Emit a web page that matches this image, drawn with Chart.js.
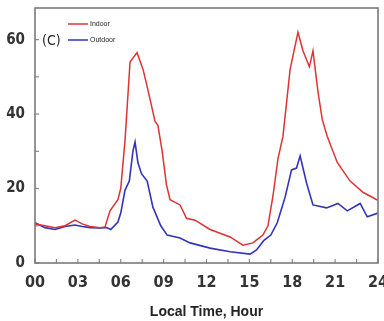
<!DOCTYPE html>
<html lang="en">
<head>
    <meta charset="UTF-8">
    <title>Indoor vs Outdoor</title>
    <script src="https://cdn.jsdelivr.net/npm/chart.js"></script>
    <style>
        body { margin: 0; background: #fff; }
        #wrap { width: 384px; height: 321px; }
    </style>
</head>
<body>
<div id="wrap"><canvas id="chart"></canvas></div>
<script>
    // values (hour of day -> concentration)
    const indoorHours = [0, 0.7, 1.4, 2.1, 2.8, 3.3, 3.85, 4.55, 4.9, 5.25, 5.8, 6.0, 6.3, 6.65, 7.14, 7.56, 7.9, 8.4, 8.6, 8.9, 9.2, 9.45, 10.15, 10.6, 11.2, 12.25, 13.65, 14.55, 15.25, 15.6, 15.95, 16.3, 16.65, 17.0, 17.35, 17.85, 18.4, 18.75, 19.2, 19.45, 19.8, 20.1, 20.45, 21.15, 22.05, 22.95, 23.9, 24];
    const indoorValues = [10.5, 10, 9.5, 10, 11.5, 10.5, 9.8, 9.5, 9.7, 14, 17, 20, 33, 54, 56.5, 52, 46.5, 38, 37, 30, 21, 17, 15.6, 12, 11.5, 9, 7, 4.8, 5.4, 6.5, 7.5, 10, 18, 28, 34, 52, 62, 57, 52.7, 57, 46, 38.5, 34, 27, 22, 19, 17, 17];
    const outdoorHours = [0, 0.7, 1.4, 2.1, 2.8, 3.3, 3.85, 4.55, 5.0, 5.3, 5.8, 6.0, 6.3, 6.6, 6.85, 7.0, 7.2, 7.45, 7.85, 8.25, 8.8, 9.25, 10.15, 10.85, 12.25, 13.65, 15.05, 15.5, 16.0, 16.5, 16.95, 17.5, 17.95, 18.3, 18.55, 19.0, 19.45, 20.4, 21.2, 21.85, 22.75, 23.25, 24];
    const outdoorValues = [10.8, 9.5, 9, 9.8, 10.2, 9.8, 9.5, 9.4, 9.5, 9, 11, 13.4, 19.6, 22, 30, 32.5, 27, 24, 22, 15, 10, 7.5, 6.7, 5.4, 4, 3, 2.4, 3.5, 6, 7.5, 10.8, 17.7, 25, 25.5, 28.8, 21.5, 15.6, 14.8, 16, 14, 16, 12.4, 13.4];
    const xTicks = [0, 1.5, 3, 4.5, 6, 7.5, 9, 10.5, 12, 13.5, 15, 16.5, 18, 19.5, 21, 22.5, 24];
    const yTicks = [0, 10, 20, 30, 40, 50, 60];
    const panelLabel = '(C)';
    const xTitle = 'Local Time, Hour';

    const narrow = '"DejaVu Sans Condensed", sans-serif';
    const toPoints = (hs, vs) => hs.map((h, i) => ({x: h, y: vs[i]}));

    const frameAndTicks = {
        id: 'frameAndTicks',
        afterDraw(chart) {
            const ctx = chart.ctx;
            const a = chart.chartArea;
            const xs = chart.scales.x, ys = chart.scales.y;
            ctx.save();
            // inward tick marks
            ctx.strokeStyle = '#8a8a8a';
            ctx.lineWidth = 1.2;
            xTicks.forEach(v => {
                const px = xs.getPixelForValue(v);
                ctx.beginPath(); ctx.moveTo(px, a.bottom); ctx.lineTo(px, a.bottom - 4); ctx.stroke();
            });
            yTicks.forEach(v => {
                const py = ys.getPixelForValue(v);
                ctx.beginPath(); ctx.moveTo(a.left, py); ctx.lineTo(a.left + 4, py); ctx.stroke();
            });
            // box
            ctx.strokeStyle = '#7a7a7a';
            ctx.lineWidth = 1.6;
            ctx.strokeRect(a.left, a.top, a.right - a.left, a.bottom - a.top);
            // panel label + legend
            ctx.fillStyle = '#222';
            ctx.font = '14px ' + narrow;
            ctx.textBaseline = 'middle';
            ctx.fillText(panelLabel, a.left + 7, a.top + 33);
            ctx.font = '7px "Liberation Sans", sans-serif';
            chart.data.datasets.forEach((ds, i) => {
                const y = a.top + 16 + i * 16;
                ctx.strokeStyle = ds.borderColor;
                ctx.lineWidth = 1.5;
                ctx.beginPath(); ctx.moveTo(a.left + 33, y); ctx.lineTo(a.left + 53, y); ctx.stroke();
                ctx.fillStyle = '#222';
                ctx.fillText(ds.label, a.left + 55, y);
            });
            ctx.restore();
        }
    };

    new Chart(document.getElementById('chart'), {
        type: 'line',
        data: {
            datasets: [{
                label: 'Indoor',
                data: toPoints(indoorHours, indoorValues),
                borderColor: '#dd3333',
                borderWidth: 1.5,
                pointRadius: 0,
                tension: 0
            }, {
                label: 'Outdoor',
                data: toPoints(outdoorHours, outdoorValues),
                borderColor: '#3333bb',
                borderWidth: 1.6,
                pointRadius: 0,
                tension: 0
            }]
        },
        options: {
            responsive: true,
            maintainAspectRatio: false,
            animation: false,
            layout: {padding: {top: 8, right: 6, left: 0, bottom: 0}},
            plugins: {legend: {display: false}, tooltip: {enabled: false}},
            scales: {
                x: {
                    type: 'linear',
                    min: 0, max: 24,
                    afterBuildTicks: s => { s.ticks = xTicks.map(v => ({value: v})); },
                    afterFit: s => { s.height = 58; s.paddingLeft = 0; s.paddingRight = 0; },
                    grid: {display: false},
                    border: {display: false},
                    ticks: {
                        autoSkip: false,
                        maxRotation: 0,
                        padding: 2,
                        color: '#333',
                        font: {family: narrow, size: 16, weight: 'bold'},
                        callback: v => (v % 3 === 0 ? String(v).padStart(2, '0') : '')
                    },
                    title: {
                        display: true,
                        text: xTitle,
                        color: '#222',
                        padding: {top: 0, bottom: 0},
                        font: {family: '"Liberation Sans", sans-serif', size: 14, weight: 'bold'}
                    }
                },
                y: {
                    min: 0, max: 68.5,
                    afterBuildTicks: s => { s.ticks = yTicks.map(v => ({value: v})); },
                    afterFit: s => { s.width = 35; s.paddingTop = 0; s.paddingBottom = 0; },
                    grid: {display: false},
                    border: {display: false},
                    ticks: {
                        padding: 2,
                        color: '#333',
                        font: {family: narrow, size: 15, weight: 'bold'},
                        callback: v => (v % 20 === 0 ? String(v) : '')
                    }
                }
            }
        },
        plugins: [frameAndTicks]
    });
</script>
</body>
</html>
